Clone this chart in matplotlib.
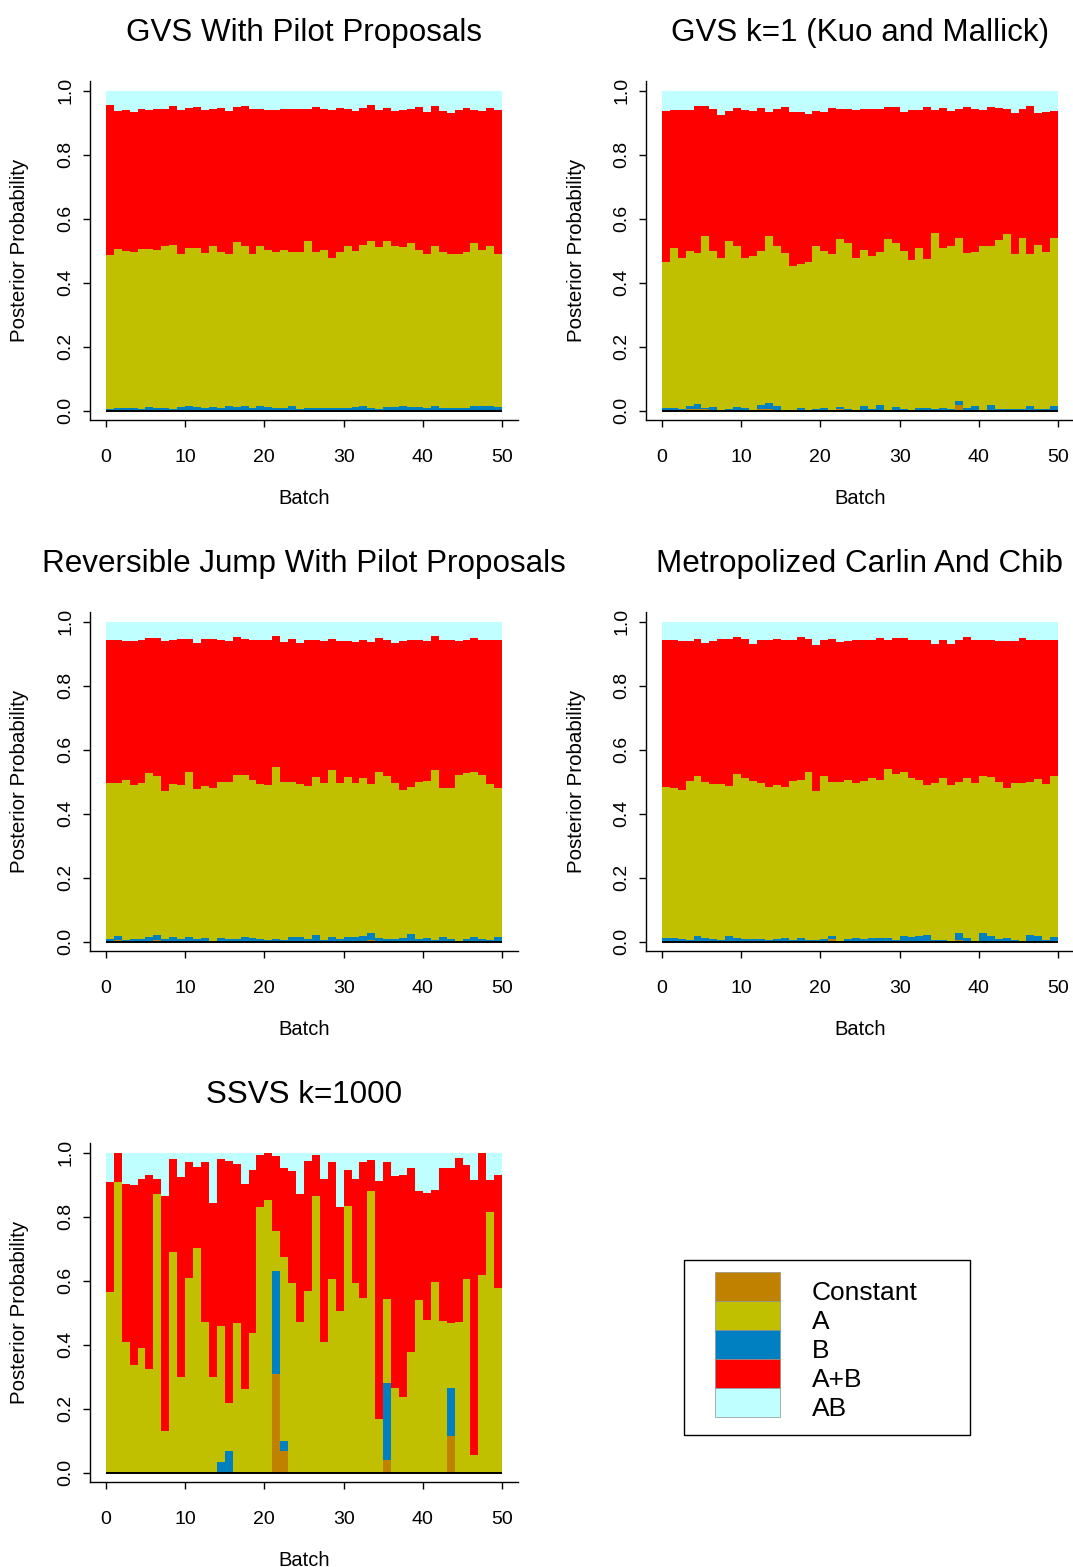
import matplotlib
matplotlib.use("Agg")
import matplotlib.pyplot as plt
import numpy as np
from matplotlib.patches import Rectangle

plt.rcParams['font.family'] = ['Liberation Sans', 'DejaVu Sans']

##### data: cumulative posterior probability per batch,
##### stacked bottom-up as Constant, B, A, A+B, AB
models = ['Constant', 'A', 'B', 'A+B', 'AB']
model_colors = {'Constant': '#C08000', 'A': '#C0C000', 'B': '#0080C0',
                'A+B': '#FF0000', 'AB': '#C0FFFF'}
stack_order = ['Constant', 'B', 'A', 'A+B', 'AB']
batches = np.arange(1, 51)
xticks = [0, 10, 20, 30, 40, 50]
yticks = [0.0, 0.2, 0.4, 0.6, 0.8, 1.0]
ytick_labels = ['0.0', '0.2', '0.4', '0.6', '0.8', '1.0']

# GVS with pilot proposals
pilot_const = [0.003, 0.002, 0.002, 0.003, 0.002, 0.002, 0.003, 0.002, 0.002, 0.003,
               0.002, 0.003, 0.002, 0.002, 0.003, 0.002, 0.002, 0.003, 0.002, 0.002,
               0.003, 0.002, 0.002, 0.003, 0.002, 0.002, 0.003, 0.002, 0.002, 0.003,
               0.002, 0.002, 0.003, 0.002, 0.002, 0.003, 0.002, 0.002, 0.003, 0.002,
               0.002, 0.003, 0.002, 0.002, 0.003, 0.002, 0.002, 0.003, 0.002, 0.002]
pilot_b = [0.004, 0.008, 0.010, 0.007, 0.005, 0.011, 0.009, 0.009, 0.004, 0.011,
           0.015, 0.012, 0.009, 0.012, 0.007, 0.015, 0.011, 0.015, 0.010, 0.015,
           0.011, 0.010, 0.010, 0.015, 0.006, 0.007, 0.007, 0.009, 0.007, 0.007,
           0.008, 0.012, 0.015, 0.010, 0.005, 0.011, 0.012, 0.014, 0.012, 0.012,
           0.008, 0.014, 0.008, 0.008, 0.007, 0.009, 0.015, 0.015, 0.015, 0.011]
pilot_a = [0.486, 0.505, 0.499, 0.495, 0.507, 0.505, 0.501, 0.514, 0.519, 0.490,
           0.510, 0.510, 0.493, 0.516, 0.495, 0.491, 0.529, 0.514, 0.490, 0.516,
           0.503, 0.497, 0.501, 0.495, 0.495, 0.530, 0.497, 0.501, 0.477, 0.495,
           0.516, 0.498, 0.517, 0.531, 0.511, 0.531, 0.516, 0.511, 0.524, 0.501,
           0.490, 0.514, 0.495, 0.490, 0.490, 0.497, 0.524, 0.501, 0.514, 0.490]
pilot_apb = [0.956, 0.938, 0.941, 0.934, 0.945, 0.940, 0.945, 0.945, 0.953, 0.941,
             0.948, 0.950, 0.939, 0.945, 0.947, 0.936, 0.950, 0.953, 0.945, 0.945,
             0.941, 0.939, 0.945, 0.945, 0.945, 0.945, 0.949, 0.945, 0.941, 0.948,
             0.945, 0.938, 0.948, 0.957, 0.941, 0.948, 0.938, 0.941, 0.945, 0.951,
             0.935, 0.953, 0.936, 0.931, 0.941, 0.948, 0.941, 0.936, 0.948, 0.940]

# GVS k=1 (Kuo and Mallick)
kuo_const = [0.001, 0.001, 0.001, 0.005, 0.005, 0.005, 0.001, 0.000, 0.001, 0.001,
             0.001, 0.001, 0.004, 0.004, 0.001, 0.001, 0.001, 0.001, 0.000, 0.001,
             0.001, 0.000, 0.004, 0.001, 0.000, 0.001, 0.001, 0.001, 0.000, 0.001,
             0.001, 0.001, 0.001, 0.001, 0.001, 0.001, 0.001, 0.019, 0.001, 0.001,
             0.001, 0.001, 0.001, 0.001, 0.001, 0.001, 0.003, 0.003, 0.001, 0.001]
kuo_b = [0.008, 0.010, 0.005, 0.014, 0.020, 0.010, 0.012, 0.000, 0.004, 0.012,
         0.010, 0.003, 0.018, 0.025, 0.016, 0.003, 0.002, 0.007, 0.000, 0.005,
         0.009, 0.000, 0.012, 0.006, 0.000, 0.014, 0.006, 0.019, 0.000, 0.012,
         0.006, 0.003, 0.008, 0.008, 0.005, 0.008, 0.005, 0.029, 0.010, 0.015,
         0.003, 0.019, 0.004, 0.006, 0.006, 0.006, 0.014, 0.006, 0.005, 0.014]
kuo_a = [0.464, 0.510, 0.476, 0.500, 0.494, 0.546, 0.500, 0.479, 0.531, 0.516,
         0.476, 0.484, 0.498, 0.546, 0.515, 0.493, 0.454, 0.459, 0.466, 0.516,
         0.500, 0.491, 0.536, 0.525, 0.476, 0.502, 0.485, 0.497, 0.538, 0.523,
         0.500, 0.471, 0.510, 0.474, 0.556, 0.510, 0.515, 0.540, 0.494, 0.496,
         0.515, 0.514, 0.533, 0.553, 0.490, 0.541, 0.489, 0.517, 0.495, 0.539]
kuo_apb = [0.938, 0.940, 0.939, 0.940, 0.952, 0.953, 0.944, 0.924, 0.936, 0.946,
           0.941, 0.938, 0.946, 0.934, 0.944, 0.950, 0.935, 0.935, 0.927, 0.938,
           0.935, 0.948, 0.943, 0.944, 0.941, 0.942, 0.944, 0.945, 0.950, 0.950,
           0.935, 0.939, 0.939, 0.950, 0.939, 0.946, 0.936, 0.942, 0.950, 0.944,
           0.941, 0.950, 0.948, 0.944, 0.931, 0.942, 0.952, 0.930, 0.935, 0.936]

# Reversible jump with pilot proposals
rj_const = [0.002, 0.004, 0.002, 0.002, 0.002, 0.002, 0.004, 0.002, 0.002, 0.002,
            0.002, 0.002, 0.002, 0.002, 0.002, 0.002, 0.002, 0.002, 0.002, 0.002,
            0.002, 0.002, 0.002, 0.002, 0.002, 0.002, 0.002, 0.002, 0.002, 0.002,
            0.002, 0.002, 0.002, 0.004, 0.002, 0.002, 0.002, 0.002, 0.002, 0.002,
            0.002, 0.002, 0.002, 0.002, 0.002, 0.002, 0.002, 0.002, 0.002, 0.002]
rj_b = [0.008, 0.018, 0.005, 0.009, 0.010, 0.016, 0.021, 0.008, 0.015, 0.009,
        0.016, 0.010, 0.011, 0.003, 0.011, 0.008, 0.008, 0.015, 0.012, 0.009,
        0.005, 0.007, 0.005, 0.015, 0.016, 0.008, 0.021, 0.005, 0.015, 0.009,
        0.015, 0.015, 0.019, 0.028, 0.012, 0.009, 0.009, 0.013, 0.023, 0.010,
        0.011, 0.006, 0.015, 0.008, 0.003, 0.008, 0.016, 0.009, 0.006, 0.015]
rj_a = [0.497, 0.497, 0.505, 0.489, 0.495, 0.528, 0.519, 0.471, 0.493, 0.490,
        0.530, 0.476, 0.488, 0.482, 0.501, 0.499, 0.522, 0.520, 0.505, 0.493,
        0.489, 0.546, 0.501, 0.501, 0.492, 0.486, 0.516, 0.496, 0.536, 0.497,
        0.516, 0.495, 0.513, 0.494, 0.532, 0.518, 0.497, 0.473, 0.485, 0.499,
        0.502, 0.536, 0.482, 0.482, 0.521, 0.527, 0.530, 0.522, 0.494, 0.482]
rj_apb = [0.944, 0.943, 0.941, 0.939, 0.943, 0.949, 0.949, 0.941, 0.943, 0.946,
          0.946, 0.935, 0.946, 0.947, 0.944, 0.940, 0.953, 0.947, 0.944, 0.943,
          0.942, 0.957, 0.938, 0.946, 0.935, 0.942, 0.944, 0.939, 0.947, 0.941,
          0.940, 0.936, 0.943, 0.938, 0.949, 0.944, 0.933, 0.939, 0.942, 0.944,
          0.939, 0.957, 0.942, 0.945, 0.941, 0.944, 0.949, 0.944, 0.944, 0.944]

# Metropolized Carlin and Chib
mcc_const = [0.002, 0.002, 0.002, 0.002, 0.002, 0.002, 0.002, 0.002, 0.002, 0.002,
             0.002, 0.002, 0.002, 0.002, 0.002, 0.002, 0.002, 0.002, 0.002, 0.003,
             0.002, 0.008, 0.002, 0.002, 0.002, 0.002, 0.002, 0.002, 0.002, 0.002,
             0.002, 0.002, 0.002, 0.002, 0.002, 0.002, 0.002, 0.006, 0.002, 0.002,
             0.002, 0.002, 0.002, 0.002, 0.002, 0.002, 0.002, 0.002, 0.002, 0.002]
mcc_b = [0.011, 0.011, 0.008, 0.006, 0.018, 0.011, 0.008, 0.005, 0.018, 0.011,
         0.008, 0.008, 0.008, 0.006, 0.008, 0.011, 0.006, 0.011, 0.005, 0.005,
         0.010, 0.018, 0.002, 0.008, 0.011, 0.008, 0.011, 0.011, 0.011, 0.005,
         0.018, 0.015, 0.019, 0.021, 0.006, 0.005, 0.003, 0.028, 0.011, 0.003,
         0.026, 0.017, 0.010, 0.012, 0.005, 0.003, 0.022, 0.019, 0.006, 0.015]
mcc_a = [0.484, 0.482, 0.474, 0.503, 0.519, 0.500, 0.492, 0.493, 0.488, 0.524,
         0.511, 0.503, 0.495, 0.485, 0.491, 0.485, 0.502, 0.506, 0.530, 0.472,
         0.518, 0.498, 0.498, 0.505, 0.495, 0.502, 0.513, 0.506, 0.541, 0.523,
         0.530, 0.511, 0.506, 0.489, 0.495, 0.513, 0.490, 0.499, 0.513, 0.495,
         0.519, 0.516, 0.498, 0.481, 0.496, 0.496, 0.498, 0.508, 0.493, 0.519]
mcc_apb = [0.944, 0.943, 0.940, 0.940, 0.947, 0.935, 0.941, 0.946, 0.946, 0.953,
           0.947, 0.932, 0.942, 0.942, 0.947, 0.944, 0.945, 0.953, 0.947, 0.928,
           0.944, 0.946, 0.938, 0.941, 0.942, 0.945, 0.942, 0.949, 0.944, 0.949,
           0.949, 0.942, 0.942, 0.942, 0.932, 0.943, 0.932, 0.942, 0.952, 0.944,
           0.945, 0.943, 0.940, 0.939, 0.941, 0.950, 0.942, 0.943, 0.943, 0.944]

# SSVS k=1000
ssvs_const = [0, 0, 0, 0, 0, 0, 0, 0, 0, 0,
              0, 0, 0, 0, 0, 0, 0, 0, 0, 0,
              0, 0.308, 0.069, 0, 0, 0, 0, 0, 0, 0,
              0, 0, 0, 0, 0, 0.040, 0, 0, 0, 0,
              0, 0, 0, 0.114, 0, 0, 0, 0, 0, 0]
ssvs_b = [0, 0, 0, 0, 0, 0, 0, 0, 0, 0,
          0, 0, 0, 0, 0.034, 0.067, 0, 0, 0, 0,
          0, 0.631, 0.100, 0, 0, 0, 0, 0, 0, 0,
          0, 0, 0, 0, 0, 0.280, 0, 0, 0, 0,
          0, 0, 0.003, 0.265, 0, 0, 0, 0, 0, 0]
ssvs_a = [0.566, 0.909, 0.410, 0.338, 0.391, 0.324, 0.871, 0.129, 0.691, 0.298,
          0.610, 0.702, 0.472, 0.298, 0.459, 0.217, 0.467, 0.261, 0.438, 0.831,
          0.852, 0.756, 0.673, 0.594, 0.470, 0.567, 0.864, 0.409, 0.607, 0.507,
          0.834, 0.594, 0.545, 0.882, 0.168, 0.543, 0.265, 0.238, 0.379, 0.541,
          0.478, 0.596, 0.475, 0.467, 0.472, 0.605, 0.055, 0.617, 0.814, 0.579]
ssvs_apb = [0.910, 1.000, 0.902, 0.901, 0.918, 0.930, 0.918, 0.864, 0.980, 0.925,
            0.973, 0.956, 0.972, 0.842, 0.980, 0.975, 0.966, 0.902, 0.946, 0.994,
            1.000, 0.991, 0.952, 0.944, 0.873, 0.975, 0.993, 0.919, 0.972, 0.832,
            0.947, 0.919, 0.972, 0.978, 0.913, 0.971, 0.927, 0.930, 0.952, 0.880,
            0.874, 0.885, 0.952, 0.952, 0.983, 0.961, 0.914, 1.000, 0.914, 0.932]

##### figure, laid out in pixels
W, H = 1073, 1567
fig = plt.figure(figsize=(W / 100, H / 100), dpi=100)


def panel(col, row, title, const, b, a, apb):
    dx, dy = col * 556, row * 531
    left, right, top, bottom = 90 + dx, 518 + dx, 81 + dy, 420 + dy
    ax = fig.add_axes([left / W, 1 - bottom / H, (right - left) / W, (bottom - top) / H])

    levels = np.vstack([np.zeros(len(batches)), const, b, a, apb, np.ones(len(batches))])
    for k, name in enumerate(stack_order):
        ax.bar(batches - 1, levels[k + 1] - levels[k], bottom=levels[k], width=1.0,
               align='edge', color=model_colors[name], linewidth=0, antialiased=False)
    ax.hlines(0, 0, 50, color='black', lw=1.4, zorder=3)

    ax.set_xlim(-2, 52)
    ax.set_ylim(-0.029, 1.031)
    ax.set_xticks(xticks)
    ax.set_yticks(yticks)
    ax.set_yticklabels(ytick_labels, rotation=90, va='center')
    ax.tick_params(direction='out', length=5, width=1, labelsize=14, color='black')
    ax.tick_params(axis='x', pad=16)
    ax.tick_params(axis='y', pad=6)
    for side in ['top', 'right']:
        ax.spines[side].set_visible(False)
    for side in ['left', 'bottom']:
        ax.spines[side].set_linewidth(1.0)

    cx = (left + right) / 2
    fig.text(cx / W, 1 - (41 + dy) / H, title, ha='center', va='baseline', fontsize=22.6)
    fig.text(cx / W, 1 - (504 + dy) / H, 'Batch', ha='center', va='baseline', fontsize=14.5)
    fig.text((20 + dx) / W, 1 - (250.5 + dy) / H, 'Posterior Probability', rotation=90,
             ha='center', va='center', fontsize=14.8)
    return ax


panel(0, 0, 'GVS With Pilot Proposals', pilot_const, pilot_b, pilot_a, pilot_apb)
panel(1, 0, 'GVS k=1 (Kuo and Mallick)', kuo_const, kuo_b, kuo_a, kuo_apb)
panel(0, 1, 'Reversible Jump With Pilot Proposals', rj_const, rj_b, rj_a, rj_apb)
panel(1, 1, 'Metropolized Carlin And Chib', mcc_const, mcc_b, mcc_a, mcc_apb)
panel(0, 2, 'SSVS k=1000', ssvs_const, ssvs_b, ssvs_a, ssvs_apb)

##### legend in the empty slot
leg = fig.add_axes([0, 0, 1, 1])
leg.set_xlim(0, W)
leg.set_ylim(H, 0)
leg.axis('off')
leg.add_patch(Rectangle((684, 1260), 286, 175, fill=False, edgecolor='black', lw=1.0))
for k, name in enumerate(models):
    leg.add_patch(Rectangle((715, 1272 + 29 * k), 65, 29, facecolor=model_colors[name],
                            edgecolor='#909090', lw=0.5))
    leg.text(812, 1300 + 29 * k, name, fontsize=19, va='baseline', ha='left')

fig.savefig('out.png', dpi=100)
